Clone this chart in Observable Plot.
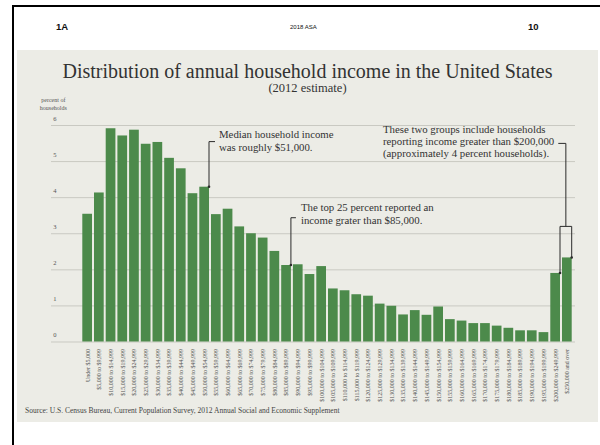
<!DOCTYPE html>
<html><head><meta charset="utf-8">
<script src="https://cdn.jsdelivr.net/npm/d3@7"></script>
<script src="https://cdn.jsdelivr.net/npm/@observablehq/plot@0.6"></script>
<style>
html,body{margin:0;padding:0;background:#fff;}
#page{position:relative;width:600px;height:445px;overflow:hidden;background:#fff;}
.abs{position:absolute;white-space:nowrap;}
#btop{left:12px;top:5px;width:588px;height:2px;background:#000;}
#bleft{left:12px;top:5px;width:2px;height:440px;background:#000;}
.hdr{font-family:"Liberation Sans",Arial,sans-serif;font-weight:bold;color:#111;line-height:1;}
#panel{left:17px;top:50px;width:581px;height:372px;background:#ecece6;}
.serif{font-family:"Liberation Serif",serif;color:#333;line-height:1;}
#title{left:17px;width:581px;top:61px;font-size:20px;text-align:center;}
#subtitle{left:17px;width:581px;top:82px;font-size:12.5px;text-align:center;}
#source{left:25px;top:407px;font-size:7.5px;color:#444;}
#chart{left:17px;top:95px;width:581px;height:320px;}
</style></head><body>
<div id="page">
  <div class="abs" id="btop"></div>
  <div class="abs" id="bleft"></div>
  <div class="abs hdr" style="left:56px;top:22px;font-size:9.5px;">1A</div>
  <div class="abs hdr" style="left:290px;top:24px;font-size:6px;font-weight:normal;">2018 ASA</div>
  <div class="abs hdr" style="left:528px;top:22px;font-size:9.5px;">10</div>
  <div class="abs" id="panel"></div>
  <div class="abs serif" id="title">Distribution of annual household income in the United States</div>
  <div class="abs serif" id="subtitle">(2012 estimate)</div>
  <div class="abs" id="chart"></div>
  <div class="abs serif" id="source">Source: U.S. Census Bureau, Current Population Survey, 2012 Annual Social and Economic Supplement</div>
</div>
<script>
const categories = [
  "Under $5,000", "$5,000 to $9,999", "$10,000 to $14,999", "$15,000 to $19,999",
  "$20,000 to $24,999", "$25,000 to $29,999", "$30,000 to $34,999", "$35,000 to $39,999",
  "$40,000 to $44,999", "$45,000 to $49,999", "$50,000 to $54,999", "$55,000 to $59,999",
  "$60,000 to $64,999", "$65,000 to $69,999", "$70,000 to $74,999", "$75,000 to $79,999",
  "$80,000 to $84,999", "$85,000 to $89,999", "$90,000 to $94,999", "$95,000 to $99,999",
  "$100,000 to $104,999", "$105,000 to $109,999", "$110,000 to $114,999", "$115,000 to $119,999",
  "$120,000 to $124,999", "$125,000 to $129,999", "$130,000 to $134,999", "$135,000 to $139,999",
  "$140,000 to $144,999", "$145,000 to $149,999", "$150,000 to $154,999", "$155,000 to $159,999",
  "$160,000 to $164,999", "$165,000 to $169,999", "$170,000 to $174,999", "$175,000 to $179,999",
  "$180,000 to $184,999", "$185,000 to $189,999", "$190,000 to $194,999", "$195,000 to $199,999",
  "$200,000 to $249,999", "$250,000 and over"
];
const percents = [
  3.54, 4.13, 5.91, 5.71, 5.87, 5.48, 5.53, 5.09, 4.80, 4.11,
  4.29, 3.53, 3.68, 3.19, 3.00, 2.88, 2.51, 2.12, 2.14, 1.87,
  2.09, 1.47, 1.42, 1.31, 1.27, 1.05, 0.99, 0.75, 0.87, 0.74,
  0.97, 0.62, 0.58, 0.51, 0.51, 0.44, 0.38, 0.31, 0.31, 0.26,
  1.90, 2.33
];
const yTicks = [0, 1, 2, 3, 4, 5, 6];
const yLabel = "percent of\nhouseholds";

const medianNote = ["Median household income", "was roughly $51,000."];
const medianBar = "$50,000 to $54,999";
const quartileNote = ["The top 25 percent reported an", "income grater than $85,000."];
const quartileBar = "$85,000 to $89,999";
const topNote = ["These two groups include households", "reporting income greater than $200,000", "(approximately 4 percent households)."];
const topBars = ["$200,000 to $249,999", "$250,000 and over"];
const topNoteStartBar = "$130,000 to $134,999";

const data = categories.map((c, i) => ({category: c, percent: percents[i]}));
const valueOf = c => percents[categories.indexOf(c)];

function annotations(index, scales) {
  const x = scales.x, y = scales.y;
  const bw = x.bandwidth();
  const right = c => x(c) + bw;
  const g = d3.create("svg:g");
  const lineColor = "#2b2b2b";
  const textG = g.append("g").attr("font-family", "Liberation Serif, serif")
    .attr("font-size", 10.8).attr("fill", "#333").attr("text-anchor", "start");

  // Median
  const mx = right(medianBar), my = y(valueOf(medianBar));
  g.append("path").attr("d", `M${mx},${my}V${y(5.54)}H${mx + 6}`)
    .attr("fill", "none").attr("stroke", lineColor).attr("stroke-width", 1);
  g.append("circle").attr("cx", mx).attr("cy", my).attr("r", 1.3).attr("fill", lineColor);
  medianNote.forEach((t, i) => textG.append("text").attr("x", mx + 10).attr("y", y(5.65) + i * 13).text(t));

  // Top quartile
  const qx = right(quartileBar), qy = y(valueOf(quartileBar));
  g.append("path").attr("d", `M${qx},${qy}V${y(3.43)}H${qx + 5}`)
    .attr("fill", "none").attr("stroke", lineColor).attr("stroke-width", 1);
  g.append("circle").attr("cx", qx).attr("cy", qy).attr("r", 1.3).attr("fill", lineColor);
  quartileNote.forEach((t, i) => textG.append("text").attr("x", qx + 10).attr("y", y(3.61) + i * 13).text(t));

  // Top groups box
  const lx = right(topBars[0]), rx = right(topBars[1]);
  const ly = y(valueOf(topBars[0])), ry = y(valueOf(topBars[1]));
  const boxTop = y(3.19), mid = (lx + rx) / 2;
  g.append("path").attr("d", `M${lx},${ly}V${boxTop}H${rx}V${ry}`)
    .attr("fill", "none").attr("stroke", lineColor).attr("stroke-width", 1);
  g.append("path").attr("d", `M${mid},${boxTop}V${y(5.49)}H${x(topBars[0]) + 8}`)
    .attr("fill", "none").attr("stroke", lineColor).attr("stroke-width", 1);
  g.append("circle").attr("cx", lx).attr("cy", ly).attr("r", 1.3).attr("fill", lineColor);
  g.append("circle").attr("cx", rx).attr("cy", ry).attr("r", 1.3).attr("fill", lineColor);
  const tx = x(topNoteStartBar) - 3.5;
  topNote.forEach((t, i) => textG.append("text").attr("x", tx).attr("y", y(5.78) + i * 11.8).text(t));

  return g.node();
}

const chart = Plot.plot({
  width: 581,
  height: 320,
  marginTop: 30,
  marginBottom: 73.5,
  marginLeft: 65.3,
  marginRight: 26.3,
  style: {fontFamily: "Liberation Serif, serif", background: "transparent", color: "#444"},
  x: {domain: categories, paddingInner: 0.17, paddingOuter: 0, align: 0.5, round: false, label: null},
  y: {domain: [0, 6], axis: null, label: null},
  marks: [
    Plot.ruleY(yTicks, {stroke: "#c9c9c2", strokeWidth: 1, insetLeft: -31.3, insetRight: -3.3}),
    Plot.text(yTicks, {y: d => d, text: d => String(d), frameAnchor: "left", dx: -29.5, dy: -7, textAnchor: "start", fontSize: 6.5, fill: "#555"}),
    Plot.text([yLabel], {frameAnchor: "top-left", text: d => d, dx: -29.5, dy: -30, textAnchor: "middle", fontSize: 6, lineHeight: 1.45, fill: "#555"}),
    Plot.barY(data, {x: "category", y: "percent", fill: "#4c8a4b"}),
    Plot.axisX({tickRotate: -90, tickSize: 0, tickPadding: 7, fontSize: 6, fill: "#555", label: null}),
    annotations
  ]
});
document.getElementById("chart").appendChild(chart);
</script>
</body></html>
